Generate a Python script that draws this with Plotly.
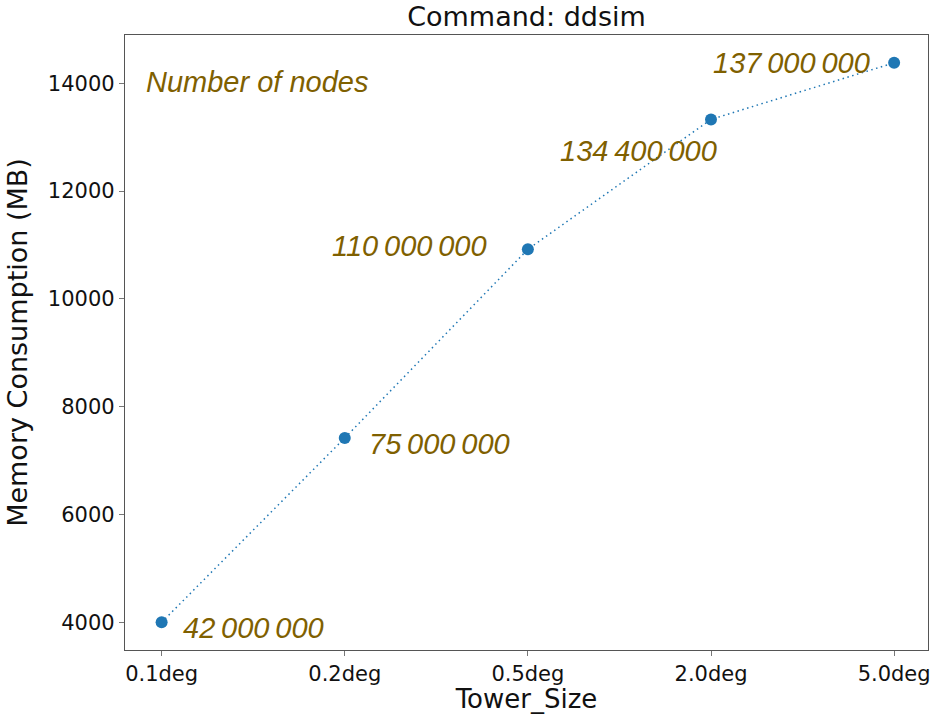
import plotly.graph_objects as go

# Data
tower_sizes = ["0.1deg", "0.2deg", "0.5deg", "2.0deg", "5.0deg"]
memory_mb = [4000, 7420, 10920, 13330, 14380]
node_labels = ["42\u2009000\u2009000", "75\u2009000\u2009000", "110\u2009000\u2009000",
               "134\u2009400\u2009000", "137\u2009000\u2009000"]
y_ticks = [4000, 6000, 8000, 10000, 12000, 14000]

# label placement (pixel offsets relative to each point)
label_anchor = ["left", "left", "right", "right", "right"]
label_dx = [19, 22, -39, 8, -22]
label_dy = [-6, -6, 3, -32, 0]

BLUE = "#1f77b4"
OLIVE = "#7f6000"
AXIS_FONT = "DejaVu Sans"
NOTE_FONT = "Liberation Sans"

fig = go.Figure()
fig.add_trace(go.Scatter(
    x=list(range(len(tower_sizes))),
    y=memory_mb,
    mode="lines+markers",
    line=dict(color=BLUE, width=1.5, dash="1.5px,3.5px"),
    marker=dict(color=BLUE, size=12),
    showlegend=False,
    hoverinfo="skip",
))

for i, (lbl, val) in enumerate(zip(node_labels, memory_mb)):
    fig.add_annotation(
        x=i, y=val, xref="x", yref="y",
        text=lbl, showarrow=False,
        xanchor=label_anchor[i], yanchor="middle",
        xshift=label_dx[i], yshift=label_dy[i],
        font=dict(family=NOTE_FONT, size=29, color=OLIVE, style="italic"),
    )

fig.add_annotation(
    x=0.024, y=0.924, xref="paper", yref="paper",
    text="Number of nodes", showarrow=False,
    xanchor="left", yanchor="middle",
    font=dict(family=NOTE_FONT, size=29, color=OLIVE, style="italic"),
)

axis_common = dict(
    showgrid=False, zeroline=False, automargin=False,
    showline=True, mirror=True, linecolor="#555555", linewidth=1.3,
    ticks="outside", ticklen=5, tickwidth=1, tickcolor="#777777",
    tickfont=dict(family=AXIS_FONT, size=21, color="#111111"),
)

fig.update_layout(
    width=933, height=714,
    margin=dict(l=125, r=5, t=35, b=64),
    paper_bgcolor="white", plot_bgcolor="white",
    title=dict(text="Command: ddsim", x=0.5, xref="paper",
               y=1 - 17 / 714, yref="container", yanchor="middle",
               font=dict(family=AXIS_FONT, size=27, color="#111111")),
    xaxis=dict(
        **axis_common,
        range=[-0.2, 4.185],
        tickmode="array",
        tickvals=list(range(len(tower_sizes))),
        ticktext=tower_sizes,
        title=dict(text="Tower_Size", standoff=4,
                   font=dict(family=AXIS_FONT, size=26, color="#111111")),
    ),
    yaxis=dict(
        **axis_common,
        range=[3486, 14896],
        tickmode="array",
        tickvals=y_ticks,
        ticktext=[str(v) for v in y_ticks],
        title=dict(text="Memory Consumption (MB)", standoff=12,
                   font=dict(family=AXIS_FONT, size=27, color="#111111")),
    ),
)

fig.write_html(
    "out.html",
    config={"displayModeBar": False},
    post_script="document.body.style.margin='0';document.body.style.overflow='hidden';",
)
